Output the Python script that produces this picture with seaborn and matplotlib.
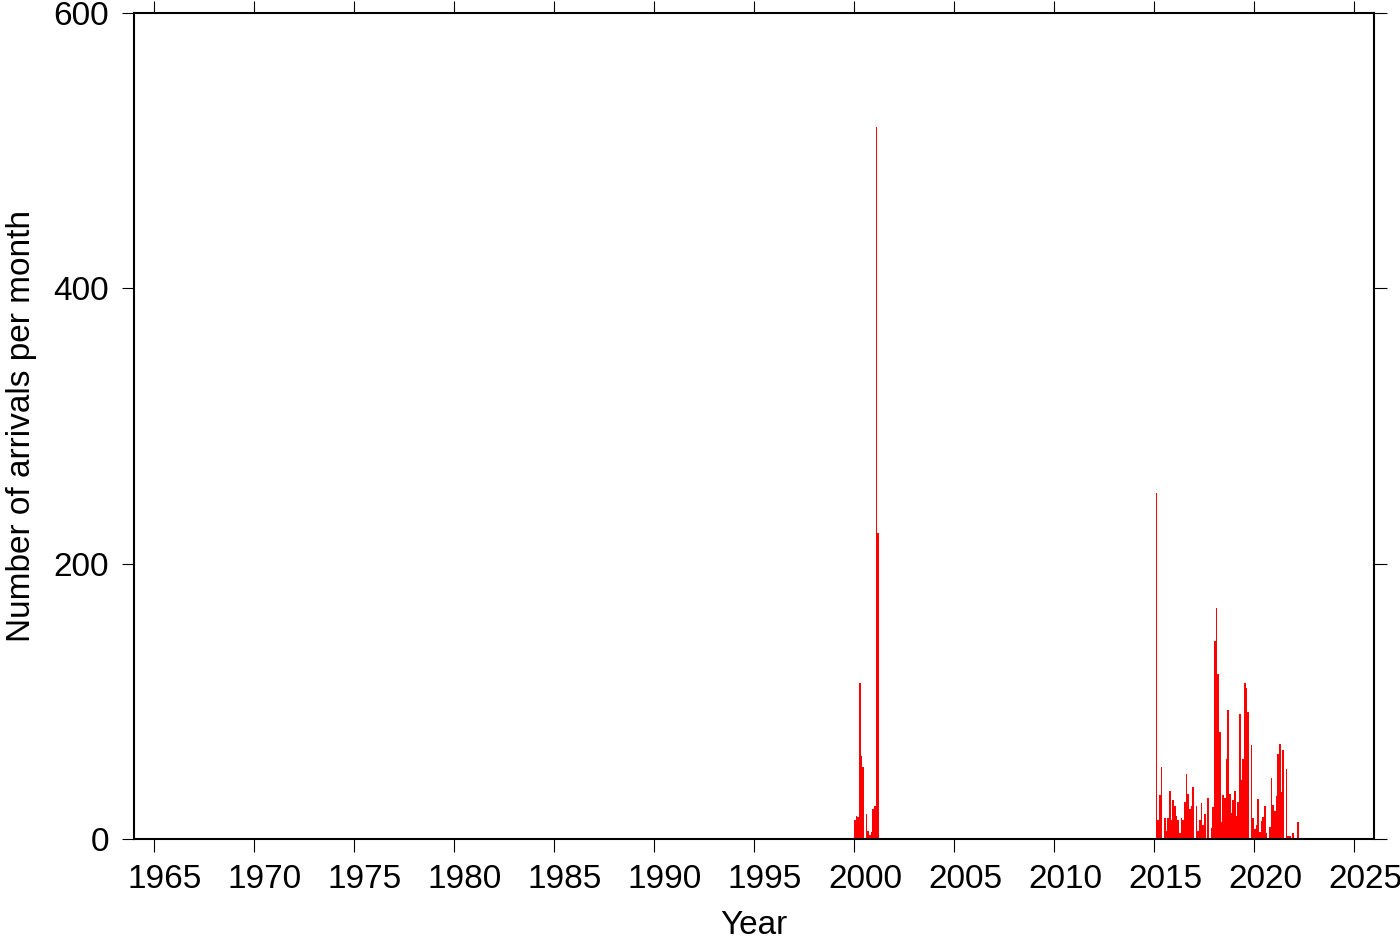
import numpy as np
import pandas as pd
import matplotlib
matplotlib.use("Agg")
import matplotlib.pyplot as plt
import matplotlib.transforms as mtransforms
import seaborn as sns

# monthly arrival counts (months not listed are zero)
month = [
    "1999-12", "2000-01", "2000-02", "2000-03", "2000-04", "2000-05", "2000-06",
    "2000-08", "2000-09", "2000-10", "2000-11", "2000-12", "2001-01", "2001-02", "2001-03",
    "2015-02", "2015-03", "2015-04", "2015-05", "2015-07", "2015-08", "2015-09",
    "2015-10", "2015-11", "2015-12",
    "2016-01", "2016-02", "2016-03", "2016-04", "2016-05", "2016-06", "2016-07",
    "2016-08", "2016-09", "2016-10", "2016-11", "2016-12",
    "2017-02", "2017-03", "2017-04", "2017-05", "2017-06", "2017-07", "2017-09",
    "2017-11", "2017-12",
    "2018-01", "2018-02", "2018-03", "2018-04", "2018-05", "2018-06", "2018-07",
    "2018-08", "2018-09", "2018-10", "2018-11", "2018-12",
    "2019-01", "2019-02", "2019-03", "2019-04", "2019-05", "2019-06", "2019-07",
    "2019-08", "2019-09", "2019-11", "2019-12",
    "2020-01", "2020-02", "2020-03", "2020-04", "2020-05", "2020-06", "2020-07",
    "2020-08", "2020-10", "2020-11", "2020-12",
    "2021-01", "2021-02", "2021-03", "2021-04", "2021-05", "2021-06", "2021-08",
    "2021-09", "2021-10", "2021-12",
    "2022-03",
]
arrivals = [
    1, 14, 17, 16, 113, 60, 52,
    18, 6, 3, 5, 22, 24, 517, 222,
    251, 14, 32, 52, 15, 6, 15,
    35, 14, 28,
    24, 17, 14, 4, 15, 14, 27,
    47, 33, 22, 24, 38,
    24, 6, 14, 26, 10, 18, 30,
    8, 23,
    144, 168, 120, 78, 12, 32, 30,
    58, 94, 33, 19, 28,
    35, 17, 27, 91, 43, 58, 113,
    110, 92, 68, 15,
    7, 10, 29, 5, 13, 16, 24,
    4, 9, 44, 25,
    20, 31, 62, 69, 34, 65, 51,
    2, 2, 4,
    12,
]
x_ticks = list(range(1965, 2026, 5))
y_ticks = [0, 200, 400, 600]

dates = pd.to_datetime(month)
df = pd.DataFrame({
    "year": dates.year + (dates.month - 1) / 12 + 1 / 24,
    "arrivals": arrivals,
})

sns.set_theme(style="ticks")
plt.rcParams["font.family"] = ["Liberation Sans", "DejaVu Sans"]
plt.rcParams["text.color"] = "black"
plt.rcParams["axes.labelcolor"] = "black"
plt.rcParams["xtick.color"] = "black"
plt.rcParams["ytick.color"] = "black"

fig = plt.figure(figsize=(14, 9.42), dpi=100)
ax = fig.add_axes([134 / 1400, 1 - 839 / 942, 1240 / 1400, 826 / 942])

sns.histplot(data=df, x="year", weights="arrivals", binwidth=1 / 12,
             binrange=(1964, 2026), color="#ff0000", alpha=1, linewidth=0, ax=ax)

ax.set_xlim(1964, 2026)
ax.set_ylim(0, 600)
ax.set_xticks(x_ticks)
ax.set_yticks(y_ticks)
ax.set_xlabel("Year", fontsize=24, labelpad=11, color="black")
ax.set_ylabel("Number of arrivals per month", fontsize=24, labelpad=12, color="black")

for s in ax.spines.values():
    s.set_linewidth(1.5)
    s.set_color("black")
ax.tick_params(axis="both", which="major", direction="out", length=9, width=0.8,
               labelsize=24, color="black", labelcolor="black",
               top=True, right=True, pad=9)

# labels sit slightly right of their ticks in the original
offset = mtransforms.ScaledTranslation(0.11, 0, fig.dpi_scale_trans)
for lbl in ax.get_xticklabels():
    lbl.set_transform(lbl.get_transform() + offset)

fig.savefig("out.png", dpi=100, facecolor="white")
